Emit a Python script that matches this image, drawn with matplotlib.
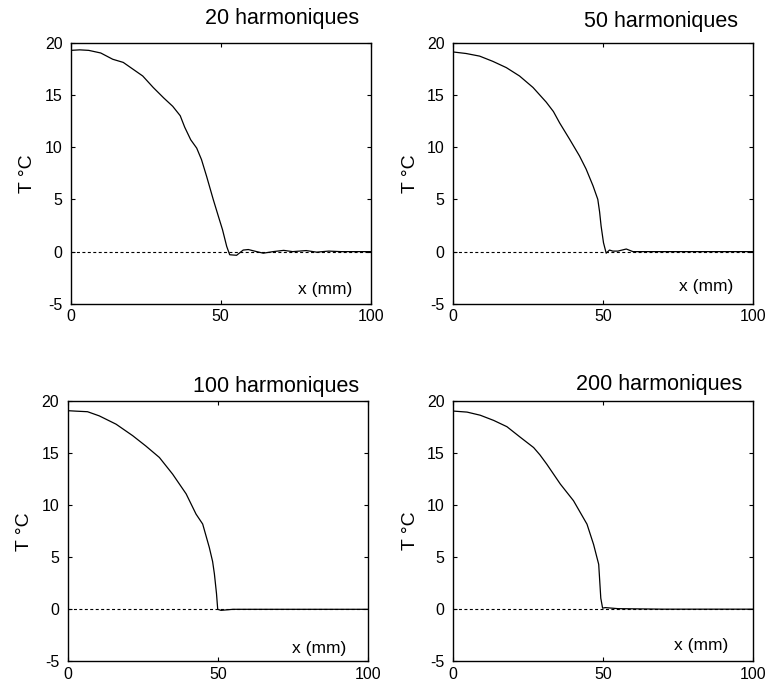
import matplotlib.pyplot as plt

plt.rcParams['font.family'] = ['Liberation Sans', 'DejaVu Sans']
plt.rcParams['axes.unicode_minus'] = False

# Profils de temperature (x en mm, T en degres C)
x20 = [0, 3, 6, 10, 14, 17.5, 21, 24, 27.5, 31, 34, 36.5, 38, 40, 42, 43.6, 45.3, 47.5,
       49.2, 50.6, 52, 53, 55.3, 57.5, 59.2, 62, 64.2, 67.5, 71, 74, 78.5, 82, 86, 90, 95, 100]
y20 = [19.25, 19.3, 19.25, 19.0, 18.4, 18.1, 17.4, 16.8, 15.7, 14.7, 13.9, 13.0, 11.9, 10.7,
       9.9, 8.8, 7.2, 5.0, 3.4, 2.1, 0.5, -0.3, -0.35, 0.15, 0.2, 0.0, -0.15, 0.0, 0.12, 0.0,
       0.1, -0.05, 0.05, 0.0, 0.0, 0.0]

x50 = [0, 4.4, 8.9, 13.3, 17.8, 22.2, 26.7, 31.1, 33.5, 35.6, 38.9, 42.2, 44.4, 46.7, 48.3,
       48.9, 49.4, 50.2, 51.1, 52.2, 53.3, 55, 57.8, 60, 70, 80, 90, 100]
y50 = [19.1, 18.95, 18.7, 18.2, 17.6, 16.8, 15.7, 14.3, 13.4, 12.3, 10.75, 9.15, 7.9, 6.3, 5.0,
       3.8, 2.45, 0.85, -0.15, 0.15, 0.05, 0.05, 0.25, 0.0, 0, 0, 0, 0]

x100 = [0, 3, 6.6, 10.5, 16.1, 21.6, 26, 30.5, 34.9, 39.4, 42.7, 44.9, 47.1, 48.2, 48.8, 49.5,
        49.9, 51, 55, 70, 100]
y100 = [19.1, 19.05, 19.0, 18.6, 17.8, 16.7, 15.7, 14.6, 13.0, 11.1, 9.15, 8.2, 5.95, 4.6, 3.4,
        1.5, 0.0, -0.1, 0, 0, 0]

x200 = [0, 4.7, 9.1, 13.6, 18, 22.4, 26.9, 29, 31.3, 35.8, 40.2, 44.7, 46.9, 48.6, 49.3, 49.9,
        50.8, 55, 70, 100]
y200 = [19.0, 18.9, 18.6, 18.1, 17.5, 16.5, 15.5, 14.8, 13.9, 12.0, 10.4, 8.15, 6.2, 4.3, 1.05,
        0.1, 0.15, 0.05, 0, 0]

titles = ['20 harmoniques', '50 harmoniques', '100 harmoniques', '200 harmoniques']
xticks = [0, 50, 100]
yticks = [-5, 0, 5, 10, 15, 20]

# positions des axes en fraction de la figure
boxes = [[0.092, 0.557, 0.390, 0.381],
         [0.589, 0.557, 0.390, 0.381],
         [0.088, 0.036, 0.391, 0.379],
         [0.589, 0.036, 0.390, 0.380]]
title_pos = [(0.963, 1.05), (0.95, 1.04), (0.97, 1.015), (0.963, 1.02)]
xlab_pos = [(0.94, -3.6), (0.933, -3.3), (0.927, -3.8), (0.917, -3.5)]

fig = plt.figure(figsize=(7.69, 6.86), dpi=100)
data = [(x20, y20), (x50, y50), (x100, y100), (x200, y200)]

for i, (xs, ys) in enumerate(data):
    ax = fig.add_axes(boxes[i])
    ax.axhline(0, color='black', lw=0.8, linestyle=(0, (2.7, 2.2)))
    ax.plot(xs, ys, color='black', lw=0.9)
    ax.set_xlim(0, 100)
    ax.set_ylim(-5, 20)
    ax.set_xticks(xticks)
    ax.set_yticks(yticks)
    ax.tick_params(direction='in', length=3, width=0.8, top=True, right=True,
                   labelsize=11.5, pad=4)
    ax.tick_params(axis='y', pad=6)
    for s in ax.spines.values():
        s.set_linewidth(1.0)
    ax.set_ylabel('T °C', fontsize=14, labelpad=6)
    ax.text(title_pos[i][0], title_pos[i][1], titles[i], transform=ax.transAxes,
            ha='right', va='bottom', fontsize=15.5)
    ax.text(xlab_pos[i][0], xlab_pos[i][1], 'x (mm)', transform=ax.get_yaxis_transform(),
            ha='right', va='center', fontsize=12.5)

fig.savefig('out.png', dpi=100)
